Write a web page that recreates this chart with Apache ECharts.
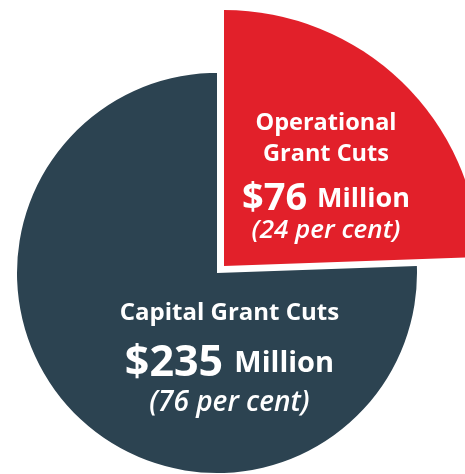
<!DOCTYPE html>
<html><head><meta charset="utf-8">
<script src="https://cdn.jsdelivr.net/npm/echarts@6/dist/echarts.min.js"></script>
<style>html,body{margin:0;padding:0;background:#fff}#c{width:465px;height:474px}</style>
</head><body><div id="c"></div>
<script>
const categories = ['Operational Grant Cuts', 'Capital Grant Cuts'];
const amounts = [76, 235];
const percents = [24, 76];
const colors = ['#e2202a', '#2c4351'];

const chart = echarts.init(document.getElementById('c'));
const FONT = '"Open Sans", Lato, sans-serif';
function richFor(s) {
  return {
    name: {fontFamily: FONT, fontWeight: 'bold', fontSize: s.name, color: '#fff', lineHeight: s.lhName},
    big: {fontFamily: FONT, fontWeight: 'bold', fontSize: s.big, color: '#fff', lineHeight: s.lhBig},
    mil: {fontFamily: FONT, fontWeight: 'bold', fontSize: s.mil, color: '#fff', lineHeight: s.lhBig},
    pct: {fontFamily: FONT, fontStyle: 'italic', fontWeight: 600, fontSize: s.pct, color: '#fff', lineHeight: s.lhPct}
  };
}
function fmt(i, twoLines) {
  const name = twoLines ? 'Operational\nGrant Cuts' : categories[i];
  const nameLines = name.split('\n').map(s => '{name|' + s + '}').join('\n');
  return nameLines + '\n{big|$' + amounts[i] + ' }{mil|Million}\n{pct|(' + percents[i] + ' per cent)}';
}
function makeData(visibleIdx) {
  return categories.map((c, i) => ({
    name: c, value: amounts[i],
    itemStyle: {color: i === visibleIdx ? colors[i] : 'rgba(0,0,0,0)'},
    label: {show: i === visibleIdx}
  }));
}
chart.setOption({
  backgroundColor: '#fff',
  animation: false,
  series: [
    {
      type: 'pie', center: [217, 273], radius: [0, 200], startAngle: 90, clockwise: true,
      silent: true, data: makeData(1),
      label: {position: 'inside', formatter: () => fmt(1, false), align: 'center',
        rich: richFor({name: 24, big: 43, mil: 29, pct: 28, lhName: 30, lhBig: 72, lhPct: 6})},
      labelLayout: {dx: 84, dy: 5},
      labelLine: {show: false}
    },
    {
      type: 'pie', center: [224, 266], radius: [0, 256], startAngle: 90, clockwise: true,
      silent: true, data: makeData(0),
      label: {position: 'inside', formatter: () => fmt(0, true), align: 'center',
        rich: richFor({name: 23.5, big: 38, mil: 27, pct: 26, lhName: 31, lhBig: 59, lhPct: 3})},
      labelLayout: {dx: 11, dy: -2},
      labelLine: {show: false}
    }
  ]
});
</script></body></html>
